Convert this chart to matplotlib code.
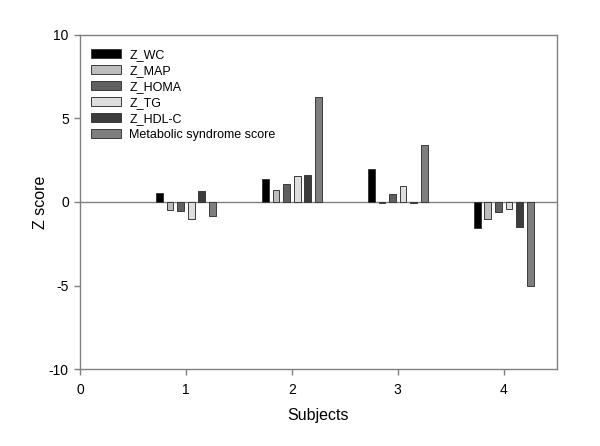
import matplotlib
matplotlib.use("Agg")
import matplotlib.pyplot as plt
import numpy as np

plt.rcParams['font.family'] = ['Liberation Sans', 'DejaVu Sans']
plt.rcParams['axes.unicode_minus'] = False

subjects = [1, 2, 3, 4]
series_names = ["Z_WC", "Z_MAP", "Z_HOMA", "Z_TG", "Z_HDL-C", "Metabolic syndrome score"]
z_wc = [0.56, 1.35, 2.0, -1.58]
z_map = [-0.5, 0.72, -0.04, -1.0]
z_homa = [-0.55, 1.06, 0.5, -0.62]
z_tg = [-1.0, 1.54, 0.96, -0.4]
z_hdl = [0.66, 1.64, -0.08, -1.5]
mets = [-0.84, 6.3, 3.39, -5.04]
series = [z_wc, z_map, z_homa, z_tg, z_hdl, mets]
colors = ["#000000", "#bdbdbd", "#606060", "#dedede", "#3c3c3c", "#7e7e7e"]

fig = plt.figure(figsize=(6.0, 4.46), dpi=100)
ax = fig.add_axes([0.1333, 0.1726, 0.7945, 0.749])

slot = 0.1
width = 0.064
x = np.array(subjects, dtype=float)
n = len(series)
for i, (vals, name, c) in enumerate(zip(series, series_names, colors)):
    offs = (i - (n - 1) / 2) * slot
    ax.bar(x + offs, vals, width=width, color=c, edgecolor="#3a3a3a",
           linewidth=0.7, label=name, zorder=3)

ax.axhline(0, color="#808080", linewidth=1.0, zorder=2)
ax.set_xlim(0, 4.5)
ax.set_ylim(-10, 10)
ax.set_xticks([0, 1, 2, 3, 4])
ax.set_yticks([-10, -5, 0, 5, 10])
for s in ax.spines.values():
    s.set_color("#808080")
    s.set_linewidth(1.0)
ax.tick_params(direction="out", length=4, width=1.0, color="#808080",
               labelsize=10, pad=4)
ax.tick_params(axis="x", pad=6)
ax.set_xlabel("Subjects", fontsize=11.5, labelpad=8)
ax.set_ylabel("Z score", fontsize=11.5, labelpad=0.5)

leg = ax.legend(loc="upper left", bbox_to_anchor=(0.005, 0.985), frameon=False,
                fontsize=9, handlelength=2.4, handleheight=0.72,
                handletextpad=0.66, labelspacing=0.32, borderaxespad=0.3)

fig.savefig("out.png", dpi=100)
